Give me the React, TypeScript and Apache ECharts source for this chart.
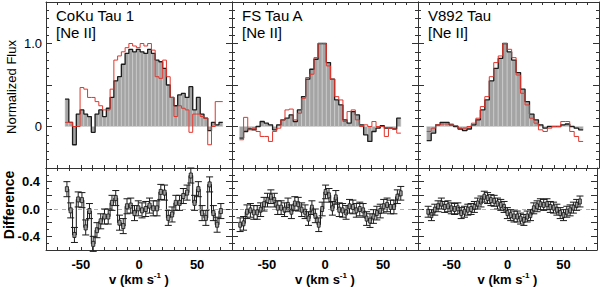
import React, { useEffect, useRef } from 'react';
import * as echarts from 'echarts';

const FONT = 'Liberation Sans, Arial, Helvetica, sans-serif';

// ---- text ----
const PANEL_NAMES = ['CoKu Tau 1', 'FS Tau A', 'V892 Tau'];
const LINE_NAME = '[Ne II]';
const Y_TITLE_TOP = 'Normalized Flux';
const Y_TITLE_BOTTOM = 'Difference';
const X_TICK_LABELS = [-50, 0, 50];
const FLUX_TICK_LABELS = [0, 1];
const DIFF_TICK_LABELS = [-0.4, 0, 0.4];

// ---- CoKu Tau 1 ----
const COKU_START = -62;
const COKU_STEP = 3.23;
const COKU_FLUX = [0.33, 0.05, -0.22, 0.15, 0.2, 0.15, 0.12, -0.07, 0.15, 0.2, 0.12, 0.22, 0.35, 0.55, 0.6, 0.75, 0.88, 0.93, 0.9, 0.93, 0.9, 0.88, 0.93, 0.88, 0.8, 0.78, 0.7, 0.5, 0.35, 0.25, 0.38, 0.4, 0.35, 0.48, 0.2, 0.35, 0.15, 0.1, -0.05, 0.05, 0.02, 0.05];
const COKU_FLUX_RED = [0.05, 0.05, 0.0, 0.0, 0.47, 0.45, 0.35, 0.35, 0.3, 0.25, 0.2, 0.2, 0.45, 0.8, 0.85, 0.9, 0.95, 1.0, 0.97, 0.95, 1.0, 0.97, 1.0, 0.92, 0.6, 0.58, 0.8, 0.6, 0.35, 0.12, 0.25, 0.22, 0.2, -0.07, 0.15, 0.15, 0.12, 0.1, -0.22, 0.0, 0.3, 0.3];
const COKU_DIFF_START = -62;
const COKU_DIFF_STEP = 3.23;
const COKU_DIFF = [0.29, -0.02, -0.38, 0.14, 0.13, -0.27, -0.03, -0.51, -0.31, -0.18, -0.11, -0.11, 0.09, 0.16, -0.2, -0.25, 0.04, 0.05, -0.06, 0.01, -0.02, 0.0, 0.05, 0.01, 0.01, 0.25, 0.24, -0.13, -0.08, 0.09, 0.09, 0.19, 0.24, 0.49, 0.09, 0.29, -0.06, -0.13, 0.36, -0.06, -0.23, -0.03];
const COKU_ERR = 0.11;

// ---- FS Tau A ----
const FS_START = -71.8;
const FS_STEP = 3.56;
const FS_FLUX = [-0.14, -0.06, -0.03, -0.04, 0.0, 0.06, 0.04, 0.02, -0.04, 0.02, 0.08, 0.1, 0.14, 0.06, 0.2, 0.36, 0.57, 0.69, 0.81, 1.0, 1.0, 0.77, 0.57, 0.32, 0.26, 0.08, 0.04, 0.18, 0.14, 0.02, -0.1, -0.18, -0.06, -0.02, 0.01, -0.02, -0.02, -0.03, 0.1];
const FS_FLUX_RED = [-0.16, 0.11, -0.04, -0.02, -0.06, -0.12, -0.12, -0.18, -0.06, -0.02, 0.08, 0.2, 0.21, 0.08, 0.16, 0.34, 0.59, 0.63, 0.83, 1.0, 1.0, 0.73, 0.57, 0.36, 0.32, 0.06, 0.18, 0.2, 0.08, 0.0, 0.02, 0.0, 0.06, 0.0, 0.0, -0.12, -0.02, -0.03, -0.08];
const FS_DIFF_START = -73;
const FS_DIFF_STEP = 2.94;
const FS_DIFF = [-0.23, -0.21, -0.04, -0.02, -0.05, -0.05, -0.01, 0.07, 0.13, 0.18, 0.13, 0.02, 0.02, -0.01, 0.06, -0.04, 0.08, 0.07, -0.01, -0.04, -0.14, 0.02, -0.1, -0.23, 0.0, 0.25, 0.2, 0.01, 0.17, -0.01, -0.02, -0.05, 0.04, 0.03, -0.02, 0.0, -0.02, -0.14, -0.17, -0.11, -0.06, -0.03, 0.04, 0.06, 0.03, 0.03, 0.18, 0.23];
const FS_ERR = 0.1;

// ---- V892 Tau ----
const V892_START = -70.3;
const V892_STEP = 3.95;
const V892_FLUX = [-0.17, -0.08, 0.02, 0.05, 0.05, 0.02, 0.0, -0.03, -0.05, -0.03, 0.02, 0.08, 0.2, 0.32, 0.55, 0.7, 0.82, 1.0, 0.9, 0.8, 0.65, 0.45, 0.3, 0.15, 0.08, 0.02, -0.02, 0.0, 0.0, 0.0, 0.02, 0.03, 0.0, -0.02, -0.04];
const V892_FLUX_RED = [-0.06, -0.02, 0.02, 0.03, 0.03, 0.03, 0.01, -0.02, -0.02, 0.0, 0.04, 0.1, 0.24, 0.36, 0.6, 0.77, 0.85, 1.0, 0.93, 0.83, 0.62, 0.4, 0.26, 0.1, 0.04, -0.04, -0.06, -0.02, 0.0, 0.0, 0.06, 0.06, -0.06, -0.12, -0.18];
const V892_DIFF_START = -70.9;
const V892_DIFF_STEP = 2.95;
const V892_DIFF = [-0.04, -0.09, -0.01, 0.04, 0.08, 0.03, 0.04, 0.01, 0.0, 0.01, -0.06, -0.04, -0.01, 0.0, 0.03, 0.08, 0.11, 0.18, 0.16, 0.13, 0.12, 0.08, 0.06, 0.03, -0.06, -0.09, -0.11, -0.11, -0.14, -0.16, -0.11, -0.09, 0.01, 0.04, 0.07, 0.06, 0.07, 0.03, 0.02, -0.01, -0.06, -0.09, -0.04, -0.02, 0.02, 0.06, 0.11];
const V892_ERR = 0.08;

const PANELS = [
  { name: PANEL_NAMES[0], start: COKU_START, step: COKU_STEP, flux: COKU_FLUX, red: COKU_FLUX_RED, dStart: COKU_DIFF_START, dStep: COKU_DIFF_STEP, diff: COKU_DIFF, err: COKU_ERR },
  { name: PANEL_NAMES[1], start: FS_START, step: FS_STEP, flux: FS_FLUX, red: FS_FLUX_RED, dStart: FS_DIFF_START, dStep: FS_DIFF_STEP, diff: FS_DIFF, err: FS_ERR },
  { name: PANEL_NAMES[2], start: V892_START, step: V892_STEP, flux: V892_FLUX, red: V892_FLUX_RED, dStart: V892_DIFF_START, dStep: V892_DIFF_STEP, diff: V892_DIFF, err: V892_ERR },
];

// layout
const GRID_LEFT = [46, 232, 418];
const GRID_WIDTH = [186, 186, 181];
const TOP_Y = 2;
const TOP_H = 166;
const BOT_Y = 168;
const BOT_H = 82;

const AXIS_COLOR = '#333';

function stepPoints(start: number, step: number, vals: number[]) {
  const pts: number[][] = vals.map((y, i) => [start - step / 2 + i * step, y]);
  pts.push([start - step / 2 + vals.length * step, vals[vals.length - 1]]);
  return pts;
}

function near(v: number, list: number[]) {
  return list.find((t) => Math.abs(v - t) < 1e-6);
}

function buildOption() {
  const grid: any[] = [];
  const xAxis: any[] = [];
  const yAxis: any[] = [];
  const series: any[] = [];

  for (let g = 0; g < 6; g++) {
    const p = g % 3;
    const isTop = g < 3;
    grid.push({
      left: GRID_LEFT[p],
      width: GRID_WIDTH[p],
      top: isTop ? TOP_Y : BOT_Y,
      height: isTop ? TOP_H : BOT_H,
      containLabel: false,
    });
    const xBase = {
      type: 'value',
      gridIndex: g,
      min: -80,
      max: 80,
      interval: 10,
      axisLine: { show: true, onZero: false, lineStyle: { color: AXIS_COLOR, width: 1 } },
      axisTick: { show: true, inside: true, length: 3, lineStyle: { color: AXIS_COLOR } },
      splitLine: { show: false },
    };
    xAxis.push({
      ...xBase,
      position: 'bottom',
      axisLabel: isTop
        ? { show: false }
        : {
            show: true,
            margin: 8,
            fontSize: 13,
            fontWeight: 'bold',
            fontFamily: FONT,
            color: '#000',
            formatter: (v: number) => (near(v, X_TICK_LABELS) !== undefined ? String(Math.round(v)) : ''),
          },
      name: isTop ? '' : '{a|v (km s}{s|-1}{a| )}',
      nameLocation: 'middle',
      nameGap: 20,
      nameTextStyle: {
        rich: {
          a: { fontSize: 13, fontWeight: 'bold', fontFamily: FONT, color: '#000', lineHeight: 15 },
          s: { fontSize: 8, fontWeight: 'bold', fontFamily: FONT, color: '#000', lineHeight: 9, verticalAlign: 'top' },
        },
      },
    });
    xAxis.push({ ...xBase, position: 'top', axisLabel: { show: false } });

    const yBase = isTop
      ? { min: -0.5, max: 1.5, interval: 0.5, minorTick: { show: true, splitNumber: 5, length: 3, lineStyle: { color: AXIS_COLOR } } }
      : { min: -0.6, max: 0.6, interval: 0.2, minorTick: { show: true, splitNumber: 2, length: 3, lineStyle: { color: AXIS_COLOR } } };
    const yCommon = {
      type: 'value',
      gridIndex: g,
      ...yBase,
      axisLine: { show: true, onZero: false, lineStyle: { color: AXIS_COLOR, width: 1 } },
      axisTick: { show: true, inside: true, length: 6, lineStyle: { color: AXIS_COLOR } },
      splitLine: { show: false },
    };
    yAxis.push({
      ...yCommon,
      position: 'left',
      axisLabel:
        p === 0
          ? isTop
            ? {
                show: true,
                margin: 4,
                fontSize: 13,
                fontFamily: FONT,
                color: '#000',
                formatter: (v: number) => {
                  const t = near(v, FLUX_TICK_LABELS);
                  return t === undefined ? '' : t === 0 ? '0' : t.toFixed(1);
                },
              }
            : {
                show: true,
                margin: 6,
                fontSize: 13,
                fontWeight: 'bold',
                fontFamily: FONT,
                color: '#000',
                formatter: (v: number) => {
                  const t = near(v, DIFF_TICK_LABELS);
                  return t === undefined ? '' : t.toFixed(1);
                },
              }
          : { show: false },
    });
    yAxis.push({ ...yCommon, position: 'right', axisLabel: { show: false } });
  }

  PANELS.forEach((pn, p) => {
    const gTop = p;
    const gBot = 3 + p;
    // gray filled histogram bars
    series.push({
      type: 'custom',
      xAxisIndex: gTop * 2,
      yAxisIndex: gTop * 2,
      data: pn.flux.map((y, i) => [pn.start - pn.step / 2 + i * pn.step, pn.start + pn.step / 2 + i * pn.step, y]),
      encode: { x: [0, 1], y: 2 },
      renderItem: (params: any, api: any) => {
        const a = api.coord([api.value(0), 0]);
        const b = api.coord([api.value(1), api.value(2)]);
        return {
          type: 'rect',
          shape: { x: a[0], y: Math.min(a[1], b[1]), width: b[0] - a[0], height: Math.abs(b[1] - a[1]) },
          style: { fill: '#a4a4a4', stroke: '#d2d2d2', lineWidth: 0.6 },
        };
      },
      z: 1,
    });
    series.push({
      type: 'line',
      xAxisIndex: gTop * 2,
      yAxisIndex: gTop * 2,
      data: stepPoints(pn.start, pn.step, pn.flux),
      step: 'end',
      symbol: 'none',
      lineStyle: { color: '#1c1c1c', width: 1.3 },
      z: 3,
    });
    series.push({
      type: 'line',
      xAxisIndex: gTop * 2,
      yAxisIndex: gTop * 2,
      data: stepPoints(pn.start, pn.step, pn.red),
      step: 'end',
      symbol: 'none',
      lineStyle: { color: '#e2352c', width: 1 },
      z: 4,
    });

    // difference
    const dData = pn.diff.map((d, i) => [pn.dStart + i * pn.dStep, d]);
    series.push({
      type: 'line',
      xAxisIndex: gBot * 2,
      yAxisIndex: gBot * 2,
      data: dData,
      step: 'middle',
      symbol: 'none',
      lineStyle: { color: '#111', width: 1 },
      z: 3,
      markLine: {
        silent: true,
        symbol: 'none',
        label: { show: false },
        lineStyle: { color: '#999', type: [4, 4], width: 0.8 },
        data: [{ yAxis: 0 }],
      },
    });
    series.push({
      type: 'custom',
      xAxisIndex: gBot * 2,
      yAxisIndex: gBot * 2,
      data: pn.diff.map((d, i) => [pn.dStart + i * pn.dStep, d, pn.err, pn.dStep]),
      encode: { x: 0, y: 1 },
      renderItem: (params: any, api: any) => {
        const v = api.value(0);
        const d = api.value(1);
        const e = api.value(2);
        const w = api.value(3);
        const c = api.coord([v, d]);
        const t = api.coord([v, d + e]);
        const b = api.coord([v, d - e]);
        const l = api.coord([v - w / 2, d]);
        const r = api.coord([v + w / 2, d]);
        const half = 3.5;
        const boxW = Math.max(2, r[0] - l[0] - 0.6);
        const st = { stroke: '#1a1a1a', lineWidth: 1 };
        return {
          type: 'group',
          children: [
            { type: 'line', shape: { x1: c[0], y1: t[1], x2: c[0], y2: b[1] }, style: st },
            { type: 'line', shape: { x1: c[0] - half, y1: t[1], x2: c[0] + half, y2: t[1] }, style: st },
            { type: 'line', shape: { x1: c[0] - half, y1: b[1], x2: c[0] + half, y2: b[1] }, style: st },
            {
              type: 'rect',
              shape: { x: c[0] - boxW / 2, y: c[1] - 2.5, width: boxW, height: 5 },
              style: { fill: '#9c9c9c', stroke: '#111', lineWidth: 0.8 },
            },
          ],
        };
      },
      z: 5,
    });
  });

  const graphic: any[] = [];
  PANELS.forEach((pn, p) => {
    const x = GRID_LEFT[p] + 10;
    graphic.push({
      type: 'text',
      x,
      y: 15,
      style: { text: pn.name, fontSize: 15, fontFamily: FONT, fill: '#000', align: 'left', verticalAlign: 'middle' },
    });
    graphic.push({
      type: 'text',
      x,
      y: 32,
      style: { text: LINE_NAME, fontSize: 15, fontFamily: FONT, fill: '#000', align: 'left', verticalAlign: 'middle' },
    });
  });
  graphic.push({
    type: 'text',
    x: 11,
    y: 87,
    rotation: Math.PI / 2,
    style: { text: Y_TITLE_TOP, fontSize: 13, fontFamily: FONT, fill: '#000', align: 'center', verticalAlign: 'middle' },
  });
  graphic.push({
    type: 'text',
    x: 9,
    y: 205,
    rotation: Math.PI / 2,
    style: { text: Y_TITLE_BOTTOM, fontSize: 14, fontWeight: 'bold', fontFamily: FONT, fill: '#000', align: 'center', verticalAlign: 'middle' },
  });

  return {
    animation: false,
    backgroundColor: '#fff',
    grid,
    xAxis,
    yAxis,
    series,
    graphic,
  };
}

export default function App() {
  const ref = useRef<HTMLDivElement>(null);
  useEffect(() => {
    if (!ref.current) return;
    const chart = echarts.init(ref.current, undefined, { renderer: 'svg' });
    chart.setOption(buildOption() as any);
    return () => chart.dispose();
  }, []);
  return <div ref={ref} style={{ position: 'absolute', left: 0, top: 0, width: 600, height: 287 }} />;
}
